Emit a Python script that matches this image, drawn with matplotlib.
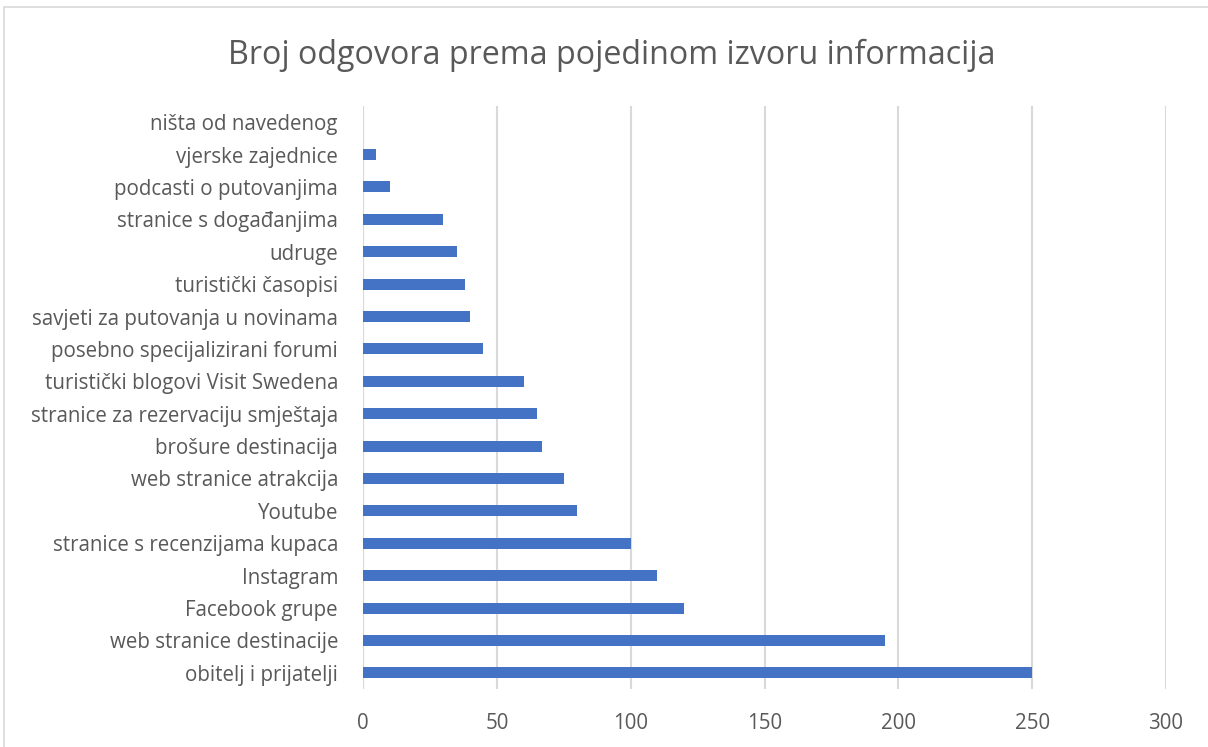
import matplotlib.pyplot as plt
from matplotlib.patches import Rectangle

# Podaci (odozdo prema gore, kao u grafu)
categories = [
    "obitelj i prijatelji",
    "web stranice destinacije",
    "Facebook grupe",
    "Instagram",
    "stranice s recenzijama kupaca",
    "Youtube",
    "web stranice atrakcija",
    "brošure destinacija",
    "stranice za rezervaciju smještaja",
    "turistički blogovi Visit Swedena",
    "posebno specijalizirani forumi",
    "savjeti za putovanja u novinama",
    "turistički časopisi",
    "udruge",
    "stranice s događanjima",
    "podcasti o putovanjima",
    "vjerske zajednice",
    "ništa od navedenog",
]
values = [250, 195, 120, 110, 100, 80, 75, 67, 65, 60, 45, 40, 38, 35, 30, 10, 5, 0]
xticks = [0, 50, 100, 150, 200, 250, 300]

BAR = "#4472C4"
TXT = "#595959"
GRID = "#D9D9D9"

plt.rcParams["font.family"] = ["Open Sans", "DejaVu Sans"]

fig = plt.figure(figsize=(12.08, 7.47), dpi=100)
ax = fig.add_axes([363 / 1208, 1 - 689 / 747, (1166 - 363) / 1208, (689 - 106) / 747])

ax.barh(range(len(categories)), values, height=0.34, color=BAR, zorder=3)
ax.set_yticks(range(len(categories)))
ax.set_yticklabels(categories, fontsize=14.8, color=TXT)
ax.set_ylim(-0.5, len(categories) - 0.5)

ax.set_xlim(0, 300)
ax.set_xticks(xticks)
ax.set_xticklabels([str(t) for t in xticks], fontsize=14.8, color=TXT)
ax.grid(axis="x", color=GRID, linewidth=1.5, zorder=0)
ax.tick_params(length=0)
ax.tick_params(axis="y", pad=18)
ax.tick_params(axis="x", pad=17)
for s in ax.spines.values():
    s.set_visible(False)
ax.axvline(0, color=GRID, linewidth=1.5, zorder=1)

fig.text(612 / 1208, 1 - 55 / 747, "Broj odgovora prema pojedinom izvoru informacija",
         ha="center", va="center", fontsize=23.2, color=TXT)

# okvir grafikona
fig.patches.append(Rectangle((4 / 1208, -0.01), 1.02, 1 - 7 / 747 + 0.01,
                             transform=fig.transFigure, fill=False,
                             edgecolor=GRID, linewidth=1.2))

fig.savefig("out.png", dpi=100)
